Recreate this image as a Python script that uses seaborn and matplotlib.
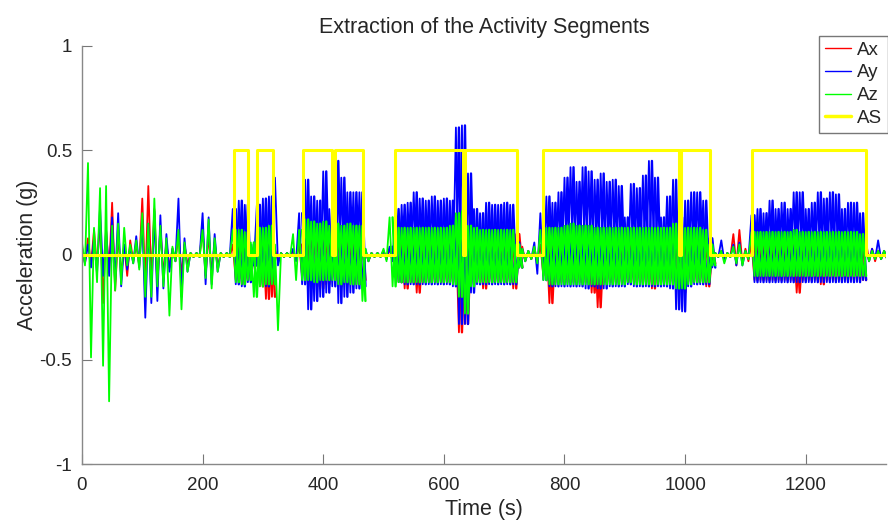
import numpy as np
import matplotlib
matplotlib.use('Agg')
import matplotlib.pyplot as plt
import seaborn as sns

# activity segment indicator: start / end of each segment (s)
as_start = [252.5, 289.5, 366, 419.5, 519, 635, 765, 994, 1110.5]
as_end = [276, 317, 414, 466.5, 631, 722, 989.5, 1041.5, 1300]
as_level = 0.5
t_end = 1335

# 10 s bins, peak (hi) and trough (lo), t = 0 .. 1330
bin_t = np.arange(0, 1340, 10)

ax_hi = [
    0.04, 0.08, 0.12, 0.17, 0.12, 0.25, 0.10, 0.05, 0.07, 0.05,
    0.27, 0.33, 0.22, 0.14, 0.06, 0.03, 0.10, 0.05, 0.01, 0.01,
    0.13, 0.10, 0.06, 0.01, 0.01, 0.05, 0.08, 0.06, 0.03, 0.10,
    0.10, 0.08, 0.03, 0.01, 0.01, 0.02, 0.05, 0.10, 0.12, 0.10,
    0.12, 0.08, 0.12, 0.12, 0.10, 0.10, 0.08, 0.02, 0.01, 0.01,
    0.02, 0.03, 0.08, 0.08, 0.08, 0.08, 0.08, 0.08, 0.08, 0.08,
    0.08, 0.08, 0.10, 0.10, 0.08, 0.08, 0.08, 0.08, 0.08, 0.08,
    0.08, 0.08, 0.10, 0.04, 0.02, 0.03, 0.05, 0.08, 0.08, 0.08,
    0.08, 0.08, 0.08, 0.08, 0.08, 0.08, 0.08, 0.08, 0.08, 0.08,
    0.08, 0.08, 0.08, 0.08, 0.08, 0.08, 0.08, 0.08, 0.08, 0.08,
    0.08, 0.08, 0.08, 0.08, 0.03, 0.01, 0.02, 0.01, 0.10, 0.12,
    0.03, 0.06, 0.06, 0.06, 0.06, 0.06, 0.06, 0.06, 0.06, 0.06,
    0.06, 0.06, 0.06, 0.06, 0.06, 0.06, 0.06, 0.06, 0.06, 0.06,
    0.065, 0.03, 0.02, 0.02,
]
ax_lo = [
    -0.04, -0.05, -0.06, -0.23, -0.08, -0.17, -0.10, -0.10, -0.03, -0.05,
    -0.15, -0.12, -0.15, -0.10, -0.06, -0.03, -0.10, -0.05, -0.01, -0.01,
    -0.10, -0.09, -0.06, -0.01, -0.01, -0.12, -0.14, -0.12, -0.05, -0.15,
    -0.21, -0.20, -0.03, -0.01, -0.01, -0.02, -0.10, -0.16, -0.15, -0.16,
    -0.14, -0.12, -0.15, -0.14, -0.14, -0.14, -0.12, -0.03, -0.01, -0.01,
    -0.02, -0.03, -0.13, -0.16, -0.13, -0.18, -0.13, -0.13, -0.13, -0.13,
    -0.13, -0.13, -0.37, -0.33, -0.14, -0.13, -0.16, -0.13, -0.13, -0.13,
    -0.13, -0.16, -0.06, -0.03, -0.02, -0.03, -0.10, -0.23, -0.13, -0.13,
    -0.13, -0.13, -0.13, -0.13, -0.18, -0.25, -0.13, -0.13, -0.13, -0.13,
    -0.13, -0.13, -0.13, -0.13, -0.16, -0.13, -0.13, -0.13, -0.13, -0.18,
    -0.13, -0.13, -0.13, -0.15, -0.04, -0.01, -0.02, -0.01, -0.05, -0.04,
    -0.03, -0.12, -0.12, -0.12, -0.12, -0.12, -0.12, -0.12, -0.18, -0.12,
    -0.12, -0.12, -0.14, -0.12, -0.12, -0.12, -0.12, -0.12, -0.12, -0.12,
    -0.03, -0.03, -0.02, -0.02,
]
ay_hi = [
    0.03, 0.05, 0.08, 0.23, 0.12, 0.18, 0.20, 0.05, 0.04, 0.09,
    0.17, 0.15, 0.21, 0.19, 0.10, 0.03, 0.27, 0.08, 0.01, 0.01,
    0.20, 0.18, 0.10, 0.01, 0.01, 0.22, 0.26, 0.24, 0.05, 0.24,
    0.27, 0.28, 0.37, 0.01, 0.01, 0.03, 0.20, 0.36, 0.28, 0.26,
    0.40, 0.22, 0.45, 0.37, 0.30, 0.30, 0.30, 0.03, 0.01, 0.01,
    0.02, 0.04, 0.22, 0.24, 0.25, 0.30, 0.27, 0.26, 0.28, 0.26,
    0.27, 0.26, 0.61, 0.62, 0.39, 0.22, 0.20, 0.25, 0.24, 0.24,
    0.25, 0.24, 0.06, 0.03, 0.02, 0.06, 0.20, 0.28, 0.25, 0.30,
    0.37, 0.42, 0.35, 0.42, 0.40, 0.36, 0.39, 0.35, 0.36, 0.33,
    0.18, 0.34, 0.32, 0.38, 0.45, 0.37, 0.18, 0.28, 0.36, 0.18,
    0.26, 0.30, 0.30, 0.26, 0.08, 0.01, 0.07, 0.01, 0.05, 0.06,
    0.02, 0.19, 0.22, 0.20, 0.26, 0.22, 0.25, 0.22, 0.30, 0.30,
    0.22, 0.25, 0.30, 0.27, 0.30, 0.29, 0.22, 0.25, 0.25, 0.20,
    0.03, 0.03, 0.07, 0.02,
]
ay_lo = [
    -0.04, -0.06, -0.09, -0.10, -0.10, -0.13, -0.15, -0.07, -0.04, -0.06,
    -0.30, -0.23, -0.22, -0.16, -0.08, -0.03, -0.20, -0.08, -0.01, -0.01,
    -0.14, -0.14, -0.08, -0.01, -0.01, -0.14, -0.15, -0.13, -0.05, -0.14,
    -0.15, -0.13, -0.05, -0.01, -0.01, -0.03, -0.14, -0.26, -0.22, -0.20,
    -0.18, -0.15, -0.23, -0.20, -0.18, -0.16, -0.15, -0.03, -0.01, -0.01,
    -0.02, -0.03, -0.13, -0.14, -0.14, -0.14, -0.14, -0.14, -0.14, -0.14,
    -0.14, -0.15, -0.33, -0.33, -0.18, -0.14, -0.14, -0.14, -0.14, -0.14,
    -0.14, -0.14, -0.06, -0.03, -0.02, -0.09, -0.12, -0.15, -0.15, -0.15,
    -0.15, -0.15, -0.15, -0.16, -0.15, -0.16, -0.16, -0.15, -0.15, -0.15,
    -0.14, -0.15, -0.15, -0.15, -0.15, -0.15, -0.15, -0.16, -0.26, -0.27,
    -0.15, -0.14, -0.14, -0.14, -0.06, -0.01, -0.03, -0.01, -0.05, -0.05,
    -0.02, -0.13, -0.13, -0.13, -0.13, -0.13, -0.13, -0.13, -0.13, -0.13,
    -0.13, -0.13, -0.13, -0.13, -0.13, -0.13, -0.13, -0.13, -0.13, -0.12,
    -0.03, -0.02, -0.02, -0.02,
]
az_hi = [
    0.06, 0.44, 0.13, 0.32, 0.33, 0.14, 0.15, 0.13, 0.05, 0.07,
    0.20, 0.15, 0.27, 0.14, 0.08, 0.04, 0.12, 0.06, 0.01, 0.01,
    0.12, 0.17, 0.08, 0.01, 0.01, 0.12, 0.12, 0.11, 0.06, 0.13,
    0.13, 0.14, 0.05, 0.01, 0.01, 0.10, 0.12, 0.17, 0.16, 0.15,
    0.16, 0.14, 0.15, 0.14, 0.15, 0.14, 0.14, 0.03, 0.01, 0.01,
    0.03, 0.18, 0.13, 0.13, 0.13, 0.13, 0.13, 0.13, 0.13, 0.13,
    0.13, 0.14, 0.20, 0.21, 0.14, 0.13, 0.12, 0.12, 0.12, 0.12,
    0.12, 0.12, 0.05, 0.03, 0.02, 0.04, 0.12, 0.13, 0.13, 0.13,
    0.14, 0.15, 0.14, 0.14, 0.14, 0.13, 0.13, 0.13, 0.13, 0.13,
    0.13, 0.13, 0.13, 0.13, 0.13, 0.13, 0.13, 0.13, 0.15, 0.13,
    0.13, 0.13, 0.13, 0.12, 0.05, 0.01, 0.02, 0.01, 0.04, 0.05,
    0.02, 0.11, 0.11, 0.11, 0.11, 0.11, 0.11, 0.11, 0.12, 0.11,
    0.11, 0.11, 0.11, 0.11, 0.11, 0.11, 0.11, 0.11, 0.11, 0.10,
    0.03, 0.02, 0.02, 0.02,
]
az_lo = [
    -0.05, -0.49, -0.13, -0.53, -0.70, -0.17, -0.14, -0.05, -0.04, -0.07,
    -0.20, -0.20, -0.15, -0.15, -0.29, -0.03, -0.26, -0.08, -0.01, -0.01,
    -0.11, -0.16, -0.08, -0.01, -0.01, -0.13, -0.14, -0.12, -0.20, -0.15,
    -0.14, -0.14, -0.36, -0.01, -0.01, -0.12, -0.12, -0.12, -0.13, -0.12,
    -0.12, -0.12, -0.14, -0.13, -0.14, -0.14, -0.22, -0.03, -0.01, -0.01,
    -0.03, -0.15, -0.13, -0.13, -0.13, -0.13, -0.13, -0.13, -0.13, -0.13,
    -0.13, -0.14, -0.20, -0.28, -0.15, -0.13, -0.13, -0.13, -0.13, -0.13,
    -0.13, -0.13, -0.06, -0.03, -0.02, -0.04, -0.12, -0.14, -0.14, -0.14,
    -0.14, -0.14, -0.14, -0.14, -0.14, -0.14, -0.14, -0.14, -0.14, -0.14,
    -0.13, -0.14, -0.14, -0.14, -0.14, -0.14, -0.14, -0.14, -0.16, -0.16,
    -0.14, -0.13, -0.13, -0.13, -0.05, -0.01, -0.04, -0.01, -0.04, -0.05,
    -0.02, -0.10, -0.10, -0.10, -0.10, -0.10, -0.10, -0.10, -0.10, -0.10,
    -0.10, -0.10, -0.10, -0.10, -0.10, -0.10, -0.10, -0.10, -0.10, -0.10,
    -0.03, -0.02, -0.02, -0.02,
]

x_ticks = [0, 200, 400, 600, 800, 1000, 1200]
y_ticks = [-1, -0.5, 0, 0.5, 1]
y_ticklabels = ['-1', '-0.5', '0', '0.5', '1']

sns.set_style('white')
plt.rcParams['font.family'] = ['Liberation Sans', 'DejaVu Sans']
plt.rcParams['axes.unicode_minus'] = False

# bins that fall inside an activity segment carry a dense signal
active = np.zeros(len(bin_t), dtype=bool)
for s, e in zip(as_start, as_end):
    active |= (bin_t + 10 > s) & (bin_t < e)

# contiguous runs of active bins
runs = []
i = 0
while i < len(bin_t):
    if active[i]:
        j = i
        while j + 1 < len(bin_t) and active[j + 1]:
            j += 1
        runs.append((i, j + 1))
        i = j + 1
    else:
        i += 1


def zigzag(hi, lo, t):
    # peak at the start of the bin, trough half way through it
    x = np.column_stack([t, t + 5]).ravel()
    y = np.column_stack([hi, lo]).ravel()
    return x, y


fig = plt.figure(figsize=(8.88, 5.22), dpi=100)
ax = fig.add_axes([0.0923, 0.1111, 0.9054, 0.8008])

for name, hi, lo, col in [('Ax', ax_hi, ax_lo, '#ff0000'),
                          ('Ay', ay_hi, ay_lo, '#0000ff'),
                          ('Az', az_hi, az_lo, '#00ff00')]:
    hi = np.asarray(hi)
    lo = np.asarray(lo)
    x, y = zigzag(hi, lo, bin_t)
    sns.lineplot(x=x, y=y, sort=False, estimator=None, color=col,
                 lw=1.3, label=name, ax=ax)
    # second trace, half a bin later, fills the dense parts
    for a, b in runs:
        x2, y2 = zigzag(hi[a:b], lo[a:b], bin_t[a:b] + 5)
        sns.lineplot(x=x2, y=y2, sort=False, estimator=None, color=col,
                     lw=1.7, ax=ax)

# activity segments as a step signal
as_x = [0]
as_y = [0]
for s, e in zip(as_start, as_end):
    as_x += [s, s, e, e]
    as_y += [0, as_level, as_level, 0]
as_x.append(t_end)
as_y.append(0)
sns.lineplot(x=as_x, y=as_y, sort=False, estimator=None, color='#ffff00',
             lw=2.2, label='AS', ax=ax)

ax.set_xlim(0, 1333)
ax.set_ylim(-1, 1)
ax.set_xticks(x_ticks)
ax.set_yticks(y_ticks)
ax.set_yticklabels(y_ticklabels)
ax.tick_params(bottom=True, left=True, direction='in', length=7, width=0.8,
               color='#777777', labelsize=13.5, labelcolor='#262626')
ax.tick_params(axis='x', pad=9)
ax.tick_params(axis='y', pad=7)
for side in ['top', 'right']:
    ax.spines[side].set_visible(False)
for side in ['left', 'bottom']:
    ax.spines[side].set_color('#888888')
    ax.spines[side].set_linewidth(1.0)

ax.set_xlabel('Time (s)', fontsize=15.5, color='#262626', labelpad=4)
ax.set_ylabel('Acceleration (g)', fontsize=15.5, color='#262626', labelpad=1)
ax.set_title('Extraction of the Activity Segments', fontsize=15.5, pad=9)

leg = ax.legend(loc='upper right', bbox_to_anchor=(1.002, 1.024),
                borderaxespad=0, fancybox=False, framealpha=1,
                edgecolor='#777777', fontsize=13.5, handlelength=1.4,
                handletextpad=0.3, labelspacing=0.3, borderpad=0.3)
leg.get_frame().set_linewidth(1.0)
for line in leg.get_lines()[:3]:
    line.set_linewidth(1.0)
leg.get_lines()[3].set_linewidth(2.5)

fig.savefig('out.png', dpi=100)
